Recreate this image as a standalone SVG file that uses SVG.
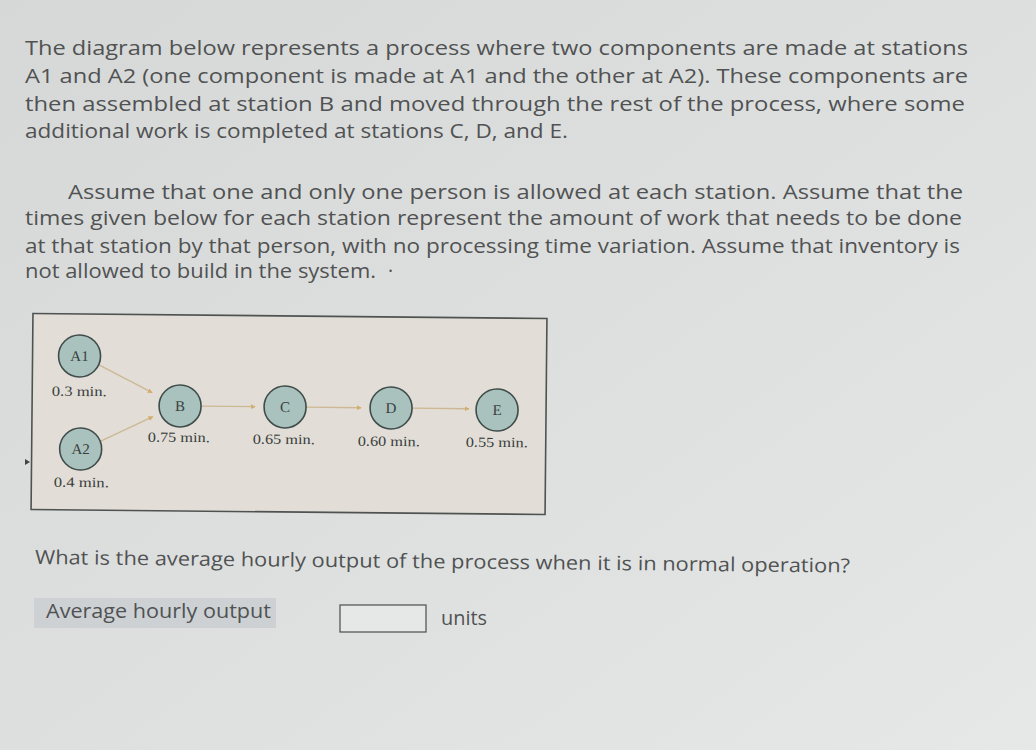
<svg xmlns="http://www.w3.org/2000/svg" width="1036" height="750" viewBox="0 0 1036 750">
<defs>
<linearGradient id="bg" x1="0" y1="0" x2="1" y2="1">
<stop offset="0" stop-color="#d6d8d7"/>
<stop offset="0.6" stop-color="#dfe1e0"/>
<stop offset="1" stop-color="#e6e8e7"/>
</linearGradient>
<marker id="ah" viewBox="0 0 10 10" refX="9" refY="5" markerWidth="5" markerHeight="5" orient="auto" markerUnits="userSpaceOnUse">
<path d="M0,0 L10,5 L0,10 Z" fill="#d2ad6c"/>
</marker>
<style>
.p{font-family:"Open Sans","Liberation Sans",sans-serif;font-size:19.5px;fill:#505253}
.node circle{fill:#a9c2be;stroke:#3f4c4a;stroke-width:1.6}
.node text{font-family:"Liberation Serif","DejaVu Serif",serif;fill:#3a3f3e}
.nl{font-size:15px}
.tl{font-size:14px}
.conn line{stroke:#cdb893;stroke-width:1.4;marker-end:url(#ah)}
</style>
</defs>
<rect width="1036" height="750" fill="url(#bg)"/>

<g id="para1">
<text class="p" x="25" y="55" textLength="943" lengthAdjust="spacingAndGlyphs">The diagram below represents a process where two components are made at stations</text>
<text class="p" x="25" y="83" textLength="943" lengthAdjust="spacingAndGlyphs">A1 and A2 (one component is made at A1 and the other at A2). These components are</text>
<text class="p" x="25" y="111" textLength="940" lengthAdjust="spacingAndGlyphs">then assembled at station B and moved through the rest of the process, where some</text>
<text class="p" x="25" y="138" textLength="543" lengthAdjust="spacingAndGlyphs">additional work is completed at stations C, D, and E.</text>
</g>

<g id="para2">
<text class="p" x="68" y="199" textLength="895" lengthAdjust="spacingAndGlyphs">Assume that one and only one person is allowed at each station. Assume that the</text>
<text class="p" x="25" y="225" textLength="937" lengthAdjust="spacingAndGlyphs">times given below for each station represent the amount of work that needs to be done</text>
<text class="p" x="25" y="253" textLength="935" lengthAdjust="spacingAndGlyphs">at that station by that person, with no processing time variation. Assume that inventory is</text>
<text class="p" x="25" y="278" textLength="351" lengthAdjust="spacingAndGlyphs">not allowed to build in the system.</text>
<text class="p" x="388" y="278">·</text>
</g>

<g id="diagram" transform="rotate(0.55 290 415)">
<rect x="32" y="316" width="514" height="196" fill="#e2ded7" stroke="#4e5352" stroke-width="1.6"/>
<g id="connectors" class="conn">
<line x1="99" y1="367" x2="152" y2="394"/>
<line x1="101" y1="443" x2="153" y2="418"/>
<line x1="201" y1="407" x2="255" y2="407"/>
<line x1="306" y1="407" x2="361" y2="407"/>
<line x1="412" y1="407" x2="469" y2="407"/>
</g>
<g id="A1" class="node">
<circle cx="79" cy="358" r="21"/>
<text class="nl" x="79" y="363" text-anchor="middle">A1</text>
<text class="tl" x="79" y="398" text-anchor="middle" textLength="55" lengthAdjust="spacingAndGlyphs">0.3 min.</text>
</g>
<g id="A2" class="node">
<circle cx="81" cy="451" r="21"/>
<text class="nl" x="81" y="456" text-anchor="middle">A2</text>
<text class="tl" x="82" y="489" text-anchor="middle" textLength="55" lengthAdjust="spacingAndGlyphs">0.4 min.</text>
</g>
<g id="B" class="node">
<circle cx="180" cy="407" r="21"/>
<text class="nl" x="180" y="412" text-anchor="middle">B</text>
<text class="tl" x="179" y="443" text-anchor="middle" textLength="62" lengthAdjust="spacingAndGlyphs">0.75 min.</text>
</g>
<g id="C" class="node">
<circle cx="285" cy="407" r="21"/>
<text class="nl" x="285" y="412" text-anchor="middle">C</text>
<text class="tl" x="284" y="444" text-anchor="middle" textLength="62" lengthAdjust="spacingAndGlyphs">0.65 min.</text>
</g>
<g id="D" class="node">
<circle cx="391" cy="407" r="21"/>
<text class="nl" x="391" y="412" text-anchor="middle">D</text>
<text class="tl" x="389" y="445" text-anchor="middle" textLength="62" lengthAdjust="spacingAndGlyphs">0.60 min.</text>
</g>
<g id="E" class="node">
<circle cx="497" cy="408" r="21"/>
<text class="nl" x="497" y="413" text-anchor="middle">E</text>
<text class="tl" x="497" y="445" text-anchor="middle" textLength="62" lengthAdjust="spacingAndGlyphs">0.55 min.</text>
</g>
</g>
<path d="M25,459 L30,462 L25,465 Z" fill="#444"/>

<g id="question" transform="rotate(0.6 35 564)">
<text class="p" x="35" y="564" textLength="815" lengthAdjust="spacingAndGlyphs">What is the average hourly output of the process when it is in normal operation?</text>
</g>

<g id="answer">
<rect x="34" y="598" width="242" height="30" fill="#cdd1d4"/>
<text class="p" x="46" y="618" textLength="225" lengthAdjust="spacingAndGlyphs">Average hourly output</text>
<rect x="340" y="605" width="86" height="27" fill="#e6e8e8" stroke="#4a4d4e" stroke-width="1.2"/>
<text class="p" x="441" y="625" textLength="46" lengthAdjust="spacingAndGlyphs">units</text>
</g>
</svg>
